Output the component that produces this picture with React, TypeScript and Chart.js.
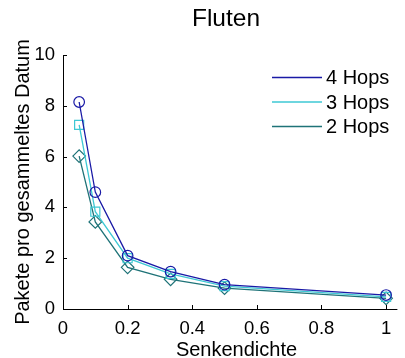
import React, { useEffect, useRef } from "react";
import { Chart, registerables } from "chart.js";

Chart.register(...registerables);

const densities = [0.05, 0.1, 0.2, 0.333, 0.5, 1];
const hops4 = [8.15, 4.6, 2.1, 1.47, 0.96, 0.55];
const hops3 = [7.25, 3.83, 2.0, 1.38, 0.9, 0.48];
const hops2 = [6.02, 3.43, 1.64, 1.17, 0.82, 0.42];
const seriesLabels = ["4 Hops", "3 Hops", "2 Hops"];
const xTicks = [0, 0.2, 0.4, 0.6, 0.8, 1];
const yTicks = [0, 2, 4, 6, 8, 10];
const titleText = "Fluten";
const xLabel = "Senkendichte";
const yLabel = "Pakete pro gesammeltes Datum";

const colors = ["#1a1aa6", "#3ec8d4", "#1f7378"];
const FONT = "'Liberation Sans', Arial, sans-serif";

const decorPlugin = {
  id: "decor",
  afterDraw(chart: any) {
    const { ctx, chartArea } = chart;
    const xs = chart.scales.x;
    const ys = chart.scales.y;
    ctx.save();
    ctx.strokeStyle = "#000";
    ctx.lineWidth = 1;
    ctx.beginPath();
    ctx.moveTo(Math.round(chartArea.left) + 0.5, chartArea.top);
    ctx.lineTo(Math.round(chartArea.left) + 0.5, Math.round(chartArea.bottom) + 0.5);
    ctx.lineTo(chartArea.right, Math.round(chartArea.bottom) + 0.5);
    ctx.stroke();
    ctx.beginPath();
    xTicks.forEach((v) => {
      const px = Math.round(xs.getPixelForValue(v)) + 0.5;
      ctx.moveTo(px, chartArea.bottom);
      ctx.lineTo(px, chartArea.bottom - 4);
    });
    yTicks.forEach((v) => {
      const py = Math.round(ys.getPixelForValue(v)) + 0.5;
      ctx.moveTo(chartArea.left, py);
      ctx.lineTo(chartArea.left + 4, py);
    });
    ctx.stroke();
    ctx.fillStyle = "#000";
    ctx.textAlign = "center";
    ctx.textBaseline = "alphabetic";
    ctx.font = `24.5px ${FONT}`;
    ctx.fillText(titleText, 226, 26);
    ctx.font = `20px ${FONT}`;
    ctx.fillText(xLabel, 236.5, 356);
    ctx.save();
    ctx.translate(29, (chartArea.top + chartArea.bottom) / 2);
    ctx.rotate(-Math.PI / 2);
    ctx.fillText(yLabel, 0, 0);
    ctx.restore();
    ctx.font = `20px ${FONT}`;
    ctx.textAlign = "left";
    ctx.textBaseline = "middle";
    chart.data.datasets.forEach((ds: any, i: number) => {
      const y = 77.5 + i * 24.5;
      ctx.strokeStyle = ds.borderColor;
      ctx.lineWidth = 1.3;
      ctx.beginPath();
      ctx.moveTo(272, y);
      ctx.lineTo(322, y);
      ctx.stroke();
      ctx.fillStyle = "#000";
      ctx.fillText(ds.label, 326, y + 1);
    });
    ctx.restore();
  },
};

export default function App() {
  const ref = useRef<HTMLCanvasElement>(null);
  useEffect(() => {
    const canvas = ref.current!;
    const mk = (label: string, vals: number[], color: string, style: string, r: number) => ({
      label,
      data: densities.map((x, i) => ({ x, y: vals[i] })),
      borderColor: color,
      backgroundColor: "transparent",
      pointBackgroundColor: "transparent",
      pointBorderColor: color,
      pointStyle: style,
      pointRadius: r,
      pointBorderWidth: 1.2,
      borderWidth: 1.3,
      tension: 0,
    });
    const chart = new Chart(canvas, {
      type: "line",
      data: {
        datasets: [
          mk(seriesLabels[0], hops4, colors[0], "circle", 5.3),
          mk(seriesLabels[1], hops3, colors[1], "rect", 6.4),
          mk(seriesLabels[2], hops2, colors[2], "rectRot", 6.3),
        ],
      },
      options: {
        animation: false,
        responsive: false,
        layout: { padding: { top: 55, right: 5, left: 0, bottom: 0 } },
        plugins: { legend: { display: false }, tooltip: { enabled: false }, title: { display: false } },
        scales: {
          x: {
            type: "linear",
            min: 0,
            max: 1.035,
            afterFit: (s: any) => { s.height = 49; },
            afterBuildTicks: (s: any) => { s.ticks = xTicks.map((v) => ({ value: v })); },
            grid: { display: false, drawTicks: false },
            border: { display: false },
            ticks: {
              padding: 9,
              color: "#000",
              font: { size: 18.5, family: FONT },
              maxRotation: 0,
              callback: (v: any) => String(Number(v)),
            },
          },
          y: {
            type: "linear",
            min: 0,
            max: 10,
            afterFit: (s: any) => { s.width = 63; },
            afterBuildTicks: (s: any) => { s.ticks = yTicks.map((v) => ({ value: v })); },
            grid: { display: false, drawTicks: false },
            border: { display: false },
            ticks: {
              padding: 8,
              color: "#000",
              font: { size: 18.5, family: FONT },
              callback: (v: any) => String(Number(v)),
            },
          },
        },
      },
      plugins: [decorPlugin],
    } as any);
    return () => chart.destroy();
  }, []);
  return (
    <div style={{ position: "fixed", left: 0, top: 0, width: 405, height: 358, background: "#fff" }}>
      <canvas ref={ref} width={405} height={358} style={{ width: 405, height: 358 }} />
    </div>
  );
}
